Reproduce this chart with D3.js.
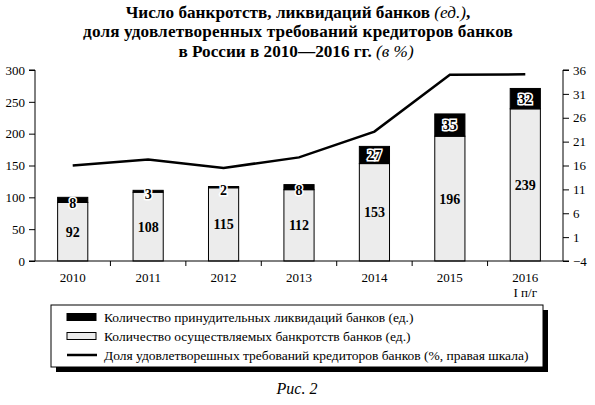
<!DOCTYPE html>
<html><head><meta charset="utf-8">
<script src="https://cdn.jsdelivr.net/npm/d3@7/dist/d3.min.js"></script>
<style>body{margin:0;background:#fff}svg{display:block}</style>
</head><body>
<svg id="c" width="595" height="405"></svg>
<script>
const categories = ["2010","2011","2012","2013","2014","2015","2016"];
const bankruptcies = [92,108,115,112,153,196,239];
const liquidations = [8,3,2,8,27,35,32];
const creditorShare = [16,17.25,15.5,17.7,23.1,35,35.1];
const leftTicks = [0,50,100,150,200,250,300];
const rightTicks = [-4,1,6,11,16,21,26,31,36];
const legendLabels = [
  "Количество принудительных ликвидаций банков (ед.)",
  "Количество осуществляемых банкротств банков (ед.)",
  "Доля удовлетворешных требований кредиторов банков (%, правая шкала)"
];

const svg = d3.select("#c");
const serif = "'Liberation Serif','DejaVu Serif',serif";
const L = 35, R = 563, T = 70, B = 261;

const x = d3.scaleBand().domain(categories).range([L, R]).paddingInner(0.6).paddingOuter(0.3);
const xb = d3.scaleBand().domain(categories).range([L, R]);
const yL = d3.scaleLinear().domain([0, 300]).range([B, T]);
const yR = d3.scaleLinear().domain([-4, 36]).range([B, T]);

// title
const title = svg.append("text").attr("text-anchor","middle").attr("font-family",serif).attr("font-size",17.2).attr("font-weight","bold");
const t1 = title.append("tspan").attr("x",298).attr("y",18);
t1.append("tspan").text("Число банкротств, ликвидаций банков ");
t1.append("tspan").attr("font-style","italic").attr("font-weight","normal").text("(ед.)");
t1.append("tspan").text(",");
title.append("tspan").attr("x",298).attr("y",37).attr("letter-spacing",0.15).text("доля удовлетворенных требований кредиторов банков");
const t3 = title.append("tspan").attr("x",296).attr("y",57);
t3.append("tspan").text("в России в 2010—2016 гг. ");
t3.append("tspan").attr("font-style","italic").attr("font-weight","normal").text("(в %)");

// bars
const g = svg.append("g");
categories.forEach((c,i)=>{
  const bx = x(c), bw = x.bandwidth();
  g.append("rect").attr("x",bx).attr("y",yL(bankruptcies[i])).attr("width",bw)
    .attr("height",yL(0)-yL(bankruptcies[i])).attr("fill","#ececec").attr("stroke","#000").attr("stroke-width",1);
  const tot = bankruptcies[i]+liquidations[i];
  g.append("rect").attr("x",bx).attr("y",yL(tot)).attr("width",bw)
    .attr("height",yL(bankruptcies[i])-yL(tot)).attr("fill","#000").attr("stroke","#000").attr("stroke-width",1);
  g.append("text").attr("x",bx+bw/2).attr("y",yL(bankruptcies[i]/2)).attr("dy","0.35em")
    .attr("text-anchor","middle").attr("font-family",serif).attr("font-weight","bold").attr("font-size",14)
    .text(bankruptcies[i]);
  g.append("text").attr("x",bx+bw/2).attr("y",yL(bankruptcies[i]+liquidations[i]/2)+ (liquidations[i]<10?3:0)).attr("dy","0.35em")
    .attr("text-anchor","middle").attr("font-family",serif).attr("font-weight","bold").attr("font-size",14)
    .attr("fill","#000").attr("stroke","#fff").attr("stroke-width",3).attr("paint-order","stroke")
    .text(liquidations[i]);
});

// line
const line = d3.line().x((d,i)=>xb(categories[i])+xb.bandwidth()/2).y(d=>yR(d));
svg.append("path").datum(creditorShare).attr("d",line).attr("fill","none").attr("stroke","#000").attr("stroke-width",2.5).attr("stroke-linejoin","miter");

// axes
const axL = svg.append("g").attr("transform",`translate(${L},0)`).call(d3.axisLeft(yL).tickValues(leftTicks).tickSize(6).tickPadding(4));
const axR = svg.append("g").attr("transform",`translate(${R},0)`).call(d3.axisRight(yR).tickValues(rightTicks).tickSize(6).tickPadding(4).tickFormat(d=>d<0?"−"+Math.abs(d):d));
const axB = svg.append("g").attr("transform",`translate(0,${B})`).call(d3.axisBottom(xb).tickSize(0).tickPadding(12));
axB.selectAll(".sep").data(categories.slice(1)).enter().append("line")
  .attr("x1",d=>xb(d)).attr("x2",d=>xb(d)).attr("y1",0).attr("y2",5).attr("stroke","#000");
[axL,axR,axB].forEach(a=>{
  a.selectAll("text").attr("font-family",serif).attr("font-size",13).attr("fill","#000");
  a.selectAll("line,path").attr("stroke","#000");
  a.select(".domain").attr("stroke-width",1);
});
axL.select(".domain").attr("d",`M-6,${T}H0V${B}H-6`);
axR.select(".domain").attr("d",`M6,${T}H0V${B}H6`);
axB.select(".domain").attr("d",`M${L},0H${R}`);
svg.append("text").attr("x",xb("2016")+xb.bandwidth()/2).attr("y",297).attr("text-anchor","middle")
  .attr("font-family",serif).attr("font-size",13).text("I п/г");

// legend
const lg = svg.append("g");
lg.append("rect").attr("x",56).attr("y",310).attr("width",492).attr("height",62).attr("fill","#000");
lg.append("rect").attr("x",51).attr("y",305).attr("width",492).attr("height",62).attr("fill","#fff").attr("stroke","#000").attr("stroke-width",1);
const ly = [317,336,355];
lg.append("rect").attr("x",67).attr("y",ly[0]-3.5).attr("width",29).attr("height",7).attr("fill","#000").attr("stroke","#000");
lg.append("rect").attr("x",67).attr("y",ly[1]-3.5).attr("width",29).attr("height",7).attr("fill","#ececec").attr("stroke","#000");
lg.append("line").attr("x1",67).attr("x2",97).attr("y1",ly[2]).attr("y2",ly[2]).attr("stroke","#000").attr("stroke-width",2.5);
legendLabels.forEach((t,i)=>{
  lg.append("text").attr("x",104).attr("y",ly[i]).attr("dy","0.35em").attr("font-family",serif).attr("font-size",13.5).text(t);
});

svg.append("text").attr("x",297).attr("y",394).attr("text-anchor","middle").attr("font-family",serif)
  .attr("font-style","italic").attr("font-size",16).text("Рис. 2");
</script>
</body></html>
